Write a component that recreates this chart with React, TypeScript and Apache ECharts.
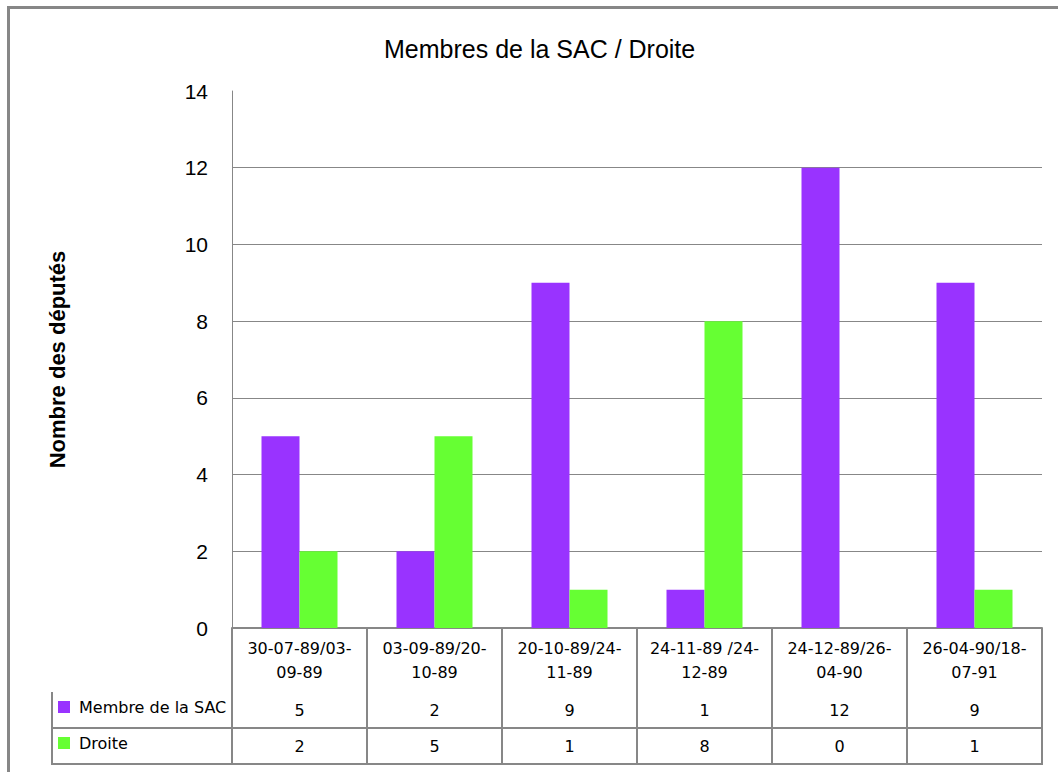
import React, { useEffect, useRef } from "react";
import * as echarts from "echarts";

const categories = [
  "30-07-89/03-09-89",
  "03-09-89/20-10-89",
  "20-10-89/24-11-89",
  "24-11-89 /24-12-89",
  "24-12-89/26-04-90",
  "26-04-90/18-07-91",
];
const sacValues = [5, 2, 9, 1, 12, 9];
const droiteValues = [2, 5, 1, 8, 0, 1];
const seriesNames = ["Membre de la SAC", "Droite"];
const yMin = 0;
const yMax = 14;
const yStep = 2;

const GRID = "#878787";

export default function App() {
  const ref = useRef<HTMLDivElement>(null);
  useEffect(() => {
    document.body.style.margin = "0";
    const chart = echarts.init(ref.current!, null, { renderer: "svg" });
    const splitColors = [];
    for (let v = yMin; v <= yMax; v += yStep) splitColors.push(v === yMax ? "rgba(0,0,0,0)" : GRID);
    chart.setOption({
      animation: false,
      backgroundColor: "#fff",
      title: {
        text: "Membres de la SAC / Droite",
        left: 379,
        top: 31,
        textStyle: { fontFamily: "Liberation Sans", fontSize: 25, fontWeight: "normal", color: "#000" },
      },
      legend: {
        orient: "vertical",
        left: 58,
        top: 699,
        padding: 0,
        itemWidth: 12,
        itemHeight: 12,
        itemGap: 20,
        selectedMode: false,
        icon: "rect",
        textStyle: { fontFamily: "DejaVu Sans", fontSize: 16, color: "#000", padding: [0, 0, 0, 4] },
        data: seriesNames,
      },
      grid: { left: 232, top: 91, right: 16, bottom: 144, containLabel: false },
      xAxis: {
        type: "category",
        data: categories,
        axisLine: { show: true, lineStyle: { color: GRID, width: 2 } },
        axisTick: { show: true, interval: 0, length: 136, alignWithLabel: false, lineStyle: { color: GRID, width: 2 } },
        axisLabel: {
          interval: 0,
          margin: 8,
          formatter: (value: string, idx: number) => {
            const l1 = value.slice(0, value.length - 5);
            const l2 = value.slice(value.length - 5);
            return `{c|${l1}}\n{c|${l2}}\n{v1|${sacValues[idx]}}\n{v2|${droiteValues[idx]}}`;
          },
          rich: {
            c: { fontFamily: "DejaVu Sans", fontSize: 16, lineHeight: 24, color: "#000", align: "center" },
            v1: { fontFamily: "DejaVu Sans", fontSize: 16, lineHeight: 52, color: "#000", align: "center" },
            v2: { fontFamily: "DejaVu Sans", fontSize: 16, lineHeight: 20, color: "#000", align: "center" },
          },
        },
      },
      yAxis: {
        type: "value",
        min: yMin,
        max: yMax,
        interval: yStep,
        name: "Nombre des députés",
        nameLocation: "middle",
        nameRotate: 90,
        nameGap: 164,
        nameTextStyle: { fontFamily: "Liberation Sans", fontSize: 22, fontWeight: "bold", color: "#000" },
        axisLine: { show: true, lineStyle: { color: GRID, width: 1 } },
        axisTick: { show: false },
        axisLabel: { fontFamily: "Liberation Sans", fontSize: 21, color: "#000", margin: 24 },
        splitLine: { show: true, lineStyle: { color: splitColors, width: 1 } },
      },
      series: [
        {
          name: seriesNames[0],
          type: "bar",
          data: sacValues,
          barWidth: 38,
          barGap: "0%",
          itemStyle: { color: "#9933FF" },
        },
        {
          name: seriesNames[1],
          type: "bar",
          data: droiteValues,
          barWidth: 38,
          barGap: "0%",
          itemStyle: { color: "#66FF33" },
        },
      ],
      graphic: [
        { type: "rect", shape: { x: 7, y: 6, width: 1051, height: 3 }, style: { fill: GRID } },
        { type: "rect", shape: { x: 7, y: 6, width: 3, height: 766 }, style: { fill: GRID } },
        { type: "line", shape: { x1: 52, y1: 728, x2: 1042, y2: 728 }, style: { stroke: GRID, lineWidth: 2 } },
        { type: "line", shape: { x1: 52, y1: 764, x2: 1043, y2: 764 }, style: { stroke: GRID, lineWidth: 2 } },
        { type: "line", shape: { x1: 52, y1: 692, x2: 52, y2: 765 }, style: { stroke: GRID, lineWidth: 2 } },
      ],
    });
    return () => chart.dispose();
  }, []);
  return <div ref={ref} style={{ width: 1058, height: 772 }} />;
}
